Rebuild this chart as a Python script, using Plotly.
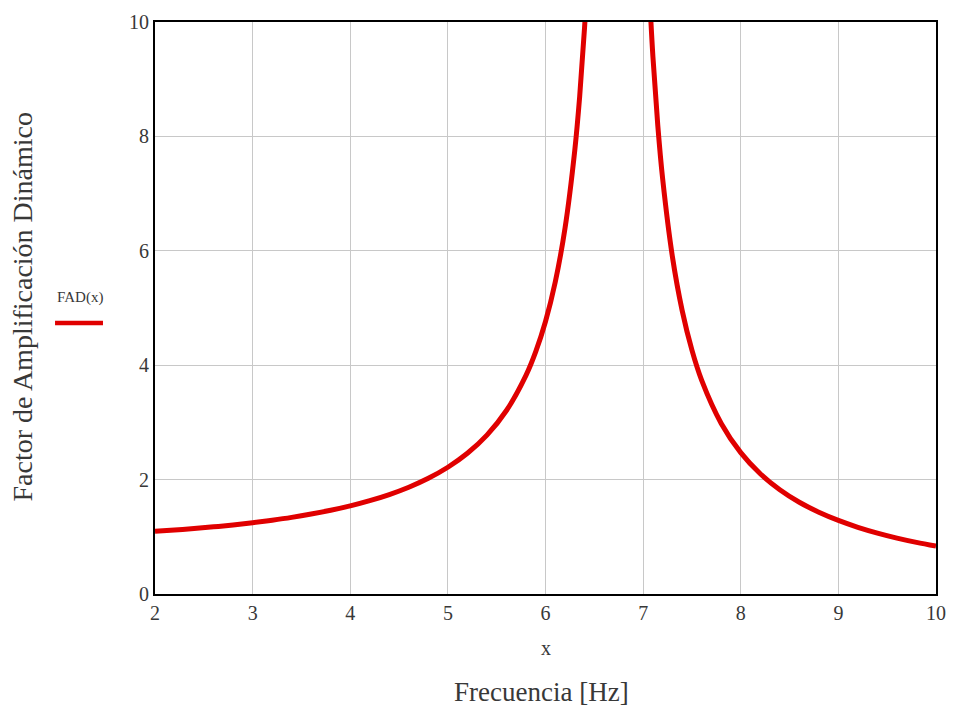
import plotly.graph_objects as go

# Values (FAD vs frequency)
x_left = [2.0, 2.2, 2.4, 2.6, 2.8, 3.0, 3.2, 3.4, 3.6, 3.8, 4.0, 4.2, 4.4, 4.6, 4.8,
          5.0, 5.2, 5.4, 5.6, 5.8, 5.9, 6.0, 6.1, 6.2, 6.3, 6.35, 6.4, 6.45]
y_left = [1.096, 1.119, 1.145, 1.174, 1.208, 1.246, 1.290, 1.340, 1.398, 1.464, 1.541,
          1.632, 1.739, 1.867, 2.023, 2.216, 2.460, 2.778, 3.208, 3.822, 4.237, 4.765,
          5.455, 6.397, 7.759, 8.695, 9.901, 11.51]
x_right = [7.05, 7.1, 7.15, 7.2, 7.3, 7.4, 7.5, 7.6, 7.8, 8.0, 8.2, 8.4, 8.6, 8.8,
           9.0, 9.2, 9.4, 9.6, 9.8, 10.0]
y_right = [11.00, 9.399, 8.195, 7.258, 5.896, 4.954, 4.263, 3.735, 2.982, 2.471, 2.102,
           1.823, 1.604, 1.429, 1.286, 1.166, 1.065, 0.978, 0.903, 0.837]

x_ticks = [2, 3, 4, 5, 6, 7, 8, 9, 10]
y_ticks = [0, 2, 4, 6, 8, 10]

RED = "#e00000"
SERIF = "Liberation Serif, Times New Roman, serif"
TXT = "#383838"

fig = go.Figure()
for xs, ys in [(x_left, y_left), (x_right, y_right)]:
    fig.add_trace(go.Scatter(x=xs, y=ys, mode="lines", line=dict(color=RED, width=5, shape="spline"),
                             showlegend=False, hoverinfo="skip"))

fig.update_layout(
    width=946, height=701,
    margin=dict(l=147, r=18, t=14, b=115),
    paper_bgcolor="white", plot_bgcolor="white",
    font=dict(family=SERIF, color=TXT),
)
fig.update_xaxes(range=[2, 10], tickvals=x_ticks, ticktext=[str(v) for v in x_ticks],
                 showgrid=True, gridcolor="#c8c8c8", gridwidth=1, automargin=False,
                 showline=True, linecolor="black", linewidth=2, mirror=True,
                 zeroline=False, ticks="", tickfont=dict(size=20, family=SERIF, color=TXT))
fig.update_yaxes(range=[0, 10], tickvals=y_ticks, ticktext=[str(v) for v in y_ticks],
                 showgrid=True, gridcolor="#c8c8c8", gridwidth=1, automargin=False,
                 showline=True, linecolor="black", linewidth=2, mirror=True,
                 zeroline=False, ticks="", tickfont=dict(size=20, family=SERIF, color=TXT))

fig.add_annotation(text="x", xref="paper", yref="paper", x=0.5, y=-0.094, showarrow=False,
                   xanchor="center", yanchor="middle", font=dict(size=20, family=SERIF, color=TXT))
fig.add_annotation(text="Frecuencia [Hz]", xref="paper", yref="paper", x=0.495, y=-0.171,
                   showarrow=False, xanchor="center", yanchor="middle",
                   font=dict(size=27, family=SERIF, color=TXT))
fig.add_annotation(text="Factor de Amplificación Dinámico", xref="paper", yref="paper",
                   x=-0.170, y=0.503, textangle=-90, showarrow=False, xanchor="center",
                   yanchor="middle", font=dict(size=28, family=SERIF, color=TXT))
fig.add_annotation(text="FAD(x)", xref="paper", yref="paper", x=-0.096, y=0.5175,
                   showarrow=False, xanchor="center", yanchor="middle",
                   font=dict(size=15, family=SERIF, color=TXT))
fig.add_shape(type="line", xref="paper", yref="paper", x0=-0.128, x1=-0.0666, y0=0.4738,
              y1=0.4738, line=dict(color=RED, width=4.5))

fig.write_html("out.html")
